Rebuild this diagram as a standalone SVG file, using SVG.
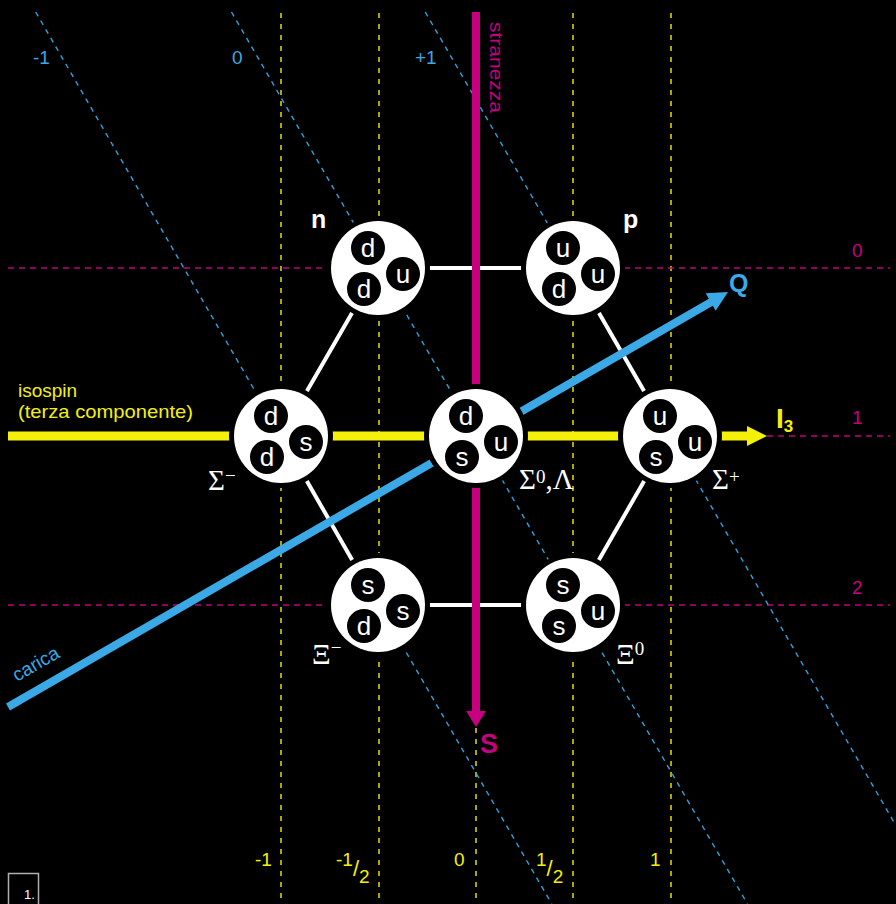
<svg xmlns="http://www.w3.org/2000/svg" width="896" height="904" viewBox="0 0 896 904">
<style>
.ydash{stroke:#d6d200;stroke-width:1.6;stroke-dasharray:5 6;fill:none}
.mdash{stroke:#c2007c;stroke-width:1.6;stroke-dasharray:6 5;fill:none}
.bdash{stroke:#2ea2de;stroke-width:1.4;stroke-dasharray:5 5;fill:none}
.edge{stroke:#fff;stroke-width:4;fill:none}
.halo{fill:#000}
.body{fill:#fff}
.q{fill:#000}
.ql{fill:#fff;font-family:"Liberation Sans",Arial,sans-serif;font-size:26px;text-anchor:middle}
.gk{fill:#fff;font-family:"Liberation Serif","Times New Roman",serif;font-size:29px}
.sup{font-size:19px}
.nl{fill:#fff;font-family:"Liberation Sans",Arial,sans-serif;font-size:25px;font-weight:bold}
.yl{fill:#f5f00a;font-family:"Liberation Sans",Arial,sans-serif;font-size:19px}
.bl{fill:#3aa9e6;font-family:"Liberation Sans",Arial,sans-serif;font-size:19px}
.ml{fill:#c6007e;font-family:"Liberation Sans",Arial,sans-serif;font-size:19px}
</style>
<rect x="0" y="0" width="896" height="904" fill="#000"/>

<g id="grid">
  <line class="ydash" x1="281" y1="13" x2="281" y2="900"/>
  <line class="ydash" x1="379" y1="13" x2="379" y2="900"/>
  <line class="ydash" x1="476" y1="13" x2="476" y2="900"/>
  <line class="ydash" x1="573" y1="13" x2="573" y2="900"/>
  <line class="ydash" x1="671" y1="13" x2="671" y2="900"/>
  <line class="mdash" x1="8" y1="268" x2="890" y2="268"/>
  <line class="mdash" x1="8" y1="436" x2="890" y2="436"/>
  <line class="mdash" x1="8" y1="605" x2="890" y2="605"/>
  <line class="bdash" x1="35.7" y1="12" x2="551.8" y2="904"/>
  <line class="bdash" x1="231.5" y1="12" x2="747.5" y2="904"/>
  <line class="bdash" x1="425.2" y1="12" x2="896" y2="825.7"/>
</g>

<g id="connectors">
  <line class="edge" x1="378" y1="268" x2="573" y2="268"/>
  <line class="edge" x1="573" y1="268" x2="670" y2="436"/>
  <line class="edge" x1="670" y1="436" x2="573" y2="605"/>
  <line class="edge" x1="573" y1="605" x2="378" y2="605"/>
  <line class="edge" x1="378" y1="605" x2="281" y2="436"/>
  <line class="edge" x1="281" y1="436" x2="378" y2="268"/>
  <line x1="8" y1="436" x2="749" y2="436" stroke="#f5f00a" stroke-width="9"/>
  <polygon points="747,426 767,436 747,446" fill="#f5f00a"/>
  <line x1="476" y1="12" x2="476" y2="713" stroke="#c6007e" stroke-width="8"/>
  <polygon points="466,711 486,711 476,727" fill="#c6007e"/>
  <line x1="8" y1="707" x2="713" y2="301" stroke="#3aa9e6" stroke-width="8"/>
  <polygon points="728,292 715.7,310.7 705.7,293.3" fill="#3aa9e6"/>
</g>

<g id="node-n" transform="translate(378,268)">
  <circle class="halo" r="52"/><circle class="body" r="47"/>
  <circle class="q" cx="-10" cy="-20" r="17"/><text class="ql" x="-10" y="-11">d</text>
  <circle class="q" cx="25" cy="6" r="17"/><text class="ql" x="25" y="15">u</text>
  <circle class="q" cx="-14" cy="21" r="17"/><text class="ql" x="-14" y="30">d</text>
</g>
<g id="node-p" transform="translate(573,268)">
  <circle class="halo" r="52"/><circle class="body" r="47"/>
  <circle class="q" cx="-10" cy="-20" r="17"/><text class="ql" x="-10" y="-11">u</text>
  <circle class="q" cx="25" cy="6" r="17"/><text class="ql" x="25" y="15">u</text>
  <circle class="q" cx="-14" cy="21" r="17"/><text class="ql" x="-14" y="30">d</text>
</g>
<g id="node-sigma-minus" transform="translate(281,436)">
  <circle class="halo" r="52"/><circle class="body" r="47"/>
  <circle class="q" cx="-10" cy="-20" r="17"/><text class="ql" x="-10" y="-11">d</text>
  <circle class="q" cx="25" cy="6" r="17"/><text class="ql" x="25" y="15">s</text>
  <circle class="q" cx="-14" cy="21" r="17"/><text class="ql" x="-14" y="30">d</text>
</g>
<g id="node-sigma0-lambda" transform="translate(476,436)">
  <circle class="halo" r="52"/><circle class="body" r="47"/>
  <circle class="q" cx="-10" cy="-20" r="17"/><text class="ql" x="-10" y="-11">d</text>
  <circle class="q" cx="25" cy="6" r="17"/><text class="ql" x="25" y="15">u</text>
  <circle class="q" cx="-14" cy="21" r="17"/><text class="ql" x="-14" y="30">s</text>
</g>
<g id="node-sigma-plus" transform="translate(670,436)">
  <circle class="halo" r="52"/><circle class="body" r="47"/>
  <circle class="q" cx="-10" cy="-20" r="17"/><text class="ql" x="-10" y="-11">u</text>
  <circle class="q" cx="25" cy="6" r="17"/><text class="ql" x="25" y="15">u</text>
  <circle class="q" cx="-14" cy="21" r="17"/><text class="ql" x="-14" y="30">s</text>
</g>
<g id="node-xi-minus" transform="translate(378,605)">
  <circle class="halo" r="52"/><circle class="body" r="47"/>
  <circle class="q" cx="-10" cy="-20" r="17"/><text class="ql" x="-10" y="-11">s</text>
  <circle class="q" cx="25" cy="6" r="17"/><text class="ql" x="25" y="15">s</text>
  <circle class="q" cx="-14" cy="21" r="17"/><text class="ql" x="-14" y="30">d</text>
</g>
<g id="node-xi0" transform="translate(573,605)">
  <circle class="halo" r="52"/><circle class="body" r="47"/>
  <circle class="q" cx="-10" cy="-20" r="17"/><text class="ql" x="-10" y="-11">s</text>
  <circle class="q" cx="25" cy="6" r="17"/><text class="ql" x="25" y="15">u</text>
  <circle class="q" cx="-14" cy="21" r="17"/><text class="ql" x="-14" y="30">s</text>
</g>

<g id="labels">
  <text class="nl" x="311" y="228">n</text>
  <text class="nl" x="623" y="228">p</text>
  <text class="gk" x="208" y="490">Σ<tspan class="sup" dy="-8">−</tspan></text>
  <text class="gk" x="519" y="489">Σ<tspan class="sup" dy="-6">0</tspan><tspan dy="6">,Λ</tspan></text>
  <text class="gk" x="712" y="489">Σ<tspan class="sup" dy="-6">+</tspan></text>
  <text class="gk" x="312" y="664">Ξ<tspan class="sup" dy="-10">−</tspan></text>
  <text class="gk" x="616" y="664">Ξ<tspan class="sup" dy="-9">0</tspan></text>

  <text class="yl" x="18" y="397" font-size="20">isospin</text>
  <text class="yl" x="18" y="418" font-size="20" textLength="175" lengthAdjust="spacingAndGlyphs">(terza componente)</text>
  <text x="776" y="428" fill="#f5f00a" font-family="Liberation Sans, Arial, sans-serif" font-size="28" font-weight="bold">I<tspan font-size="17" dy="4">3</tspan></text>
  <text x="729" y="292" fill="#3aa9e6" font-family="Liberation Sans, Arial, sans-serif" font-size="25" font-weight="bold">Q</text>
  <text x="480" y="753" fill="#c6007e" font-family="Liberation Sans, Arial, sans-serif" font-size="27" font-weight="bold">S</text>
  <text class="ml" transform="translate(490,22) rotate(90)" x="0" y="0" font-size="21" textLength="91" lengthAdjust="spacingAndGlyphs">stranezza</text>
  <text class="bl" transform="translate(17,682) rotate(-30)" x="0" y="0" font-size="21">carica</text>

  <text class="bl" x="33" y="64">-1</text>
  <text class="bl" x="232" y="64">0</text>
  <text class="bl" x="415" y="64">+1</text>

  <text class="ml" x="852" y="257">0</text>
  <text class="ml" x="852" y="424">1</text>
  <text class="ml" x="852" y="594">2</text>

  <text class="yl" x="255" y="866">-1</text>
  <text class="yl" x="336" y="866">-1<tspan dy="10" font-size="22">/</tspan><tspan dy="7">2</tspan></text>
  <text class="yl" x="454" y="866">0</text>
  <text class="yl" x="536" y="866">1<tspan dy="10" font-size="22">/</tspan><tspan dy="7">2</tspan></text>
  <text class="yl" x="650" y="866">1</text>

  <rect x="8.5" y="873.5" width="30" height="35" fill="none" stroke="#b0b0b0" stroke-width="1.5"/>
  <text x="24" y="899" fill="#fff" font-family="Liberation Sans, Arial, sans-serif" font-size="13">1.</text>
</g>
</svg>
